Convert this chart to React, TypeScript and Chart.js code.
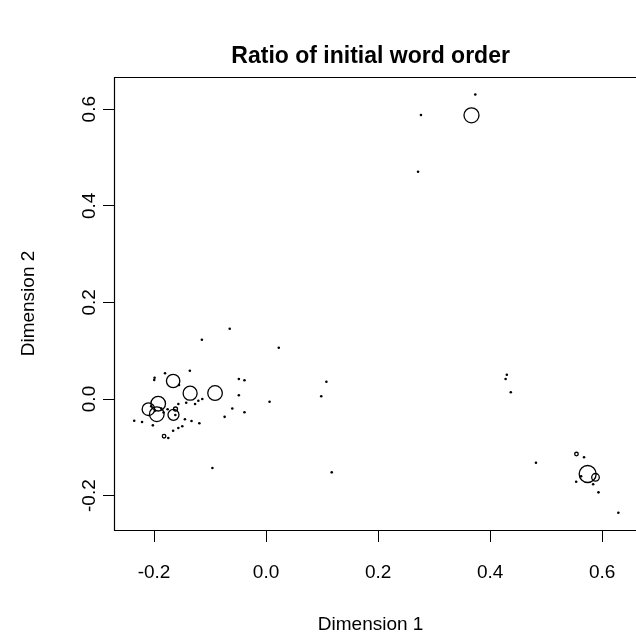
import { useEffect, useRef } from "react";
import { Chart, registerables } from "chart.js";

Chart.register(...registerables);

const chartTitle = "Ratio of initial word order";
const xAxisLabel = "Dimension 1";
const yAxisLabel = "Dimension 2";
const xTickValues = [-0.2, 0.0, 0.2, 0.4, 0.6];
const yTickValues = [-0.2, 0.0, 0.2, 0.4, 0.6];

// small dots (single items)
const dotX = [
  -0.1997, -0.199, -0.1804, -0.1361, -0.1146, -0.0649, 0.0227, -0.0486, -0.0386, 0.1077,
  -0.0486, 0.0985, 0.0062, -0.1554, -0.1209, -0.1139, -0.1268, -0.1426, -0.1566, -0.1758,
  -0.0603, -0.0386, -0.074, -0.2354, -0.2214, -0.2021, -0.1449, -0.1331, -0.1191, -0.1496,
  -0.1566, -0.1659, -0.1746, -0.0958, 0.1172, 0.2765, 0.2713, 0.3735, 0.4298, 0.4276,
  0.4369, 0.4818, 0.5676, 0.5624, 0.5536, 0.5839, 0.5934, 0.6289, -0.187, -0.198,
  -0.183, -0.205, -0.162,
];
const dotY = [
  0.0393, 0.044, 0.0532, 0.0586, 0.1228, 0.1455, 0.1062, 0.0414, 0.0387, 0.0358,
  0.0077, 0.0056, -0.0056, 0.029, -0.0035, 0.0, -0.0104, -0.0077, -0.0104, -0.0213,
  -0.0197, -0.0275, -0.0369, -0.0449, -0.0476, -0.0545, -0.042, -0.0455, -0.0503, -0.0565,
  -0.06, -0.0656, -0.0807, -0.1429, -0.1518, 0.588, 0.4706, 0.6304, 0.0503, 0.0414,
  0.0139, -0.1319, -0.1207, -0.16, -0.1712, -0.1766, -0.1932, -0.2354, -0.02, -0.024,
  -0.028, -0.015, -0.033,
];

// open circles (grouped items), symbol size
const circleX = [
  0.3667, 0.5741, 0.5881, 0.5541, -0.1659, -0.1356, -0.0911, -0.1926, -0.21, -0.1951,
  -0.1653, -0.1617, -0.1821,
];
const circleY = [
  0.5874, -0.1553, -0.1621, -0.1139, 0.0373, 0.012, 0.0124, -0.0097, -0.0211, -0.0315,
  -0.0327, -0.0207, -0.077,
];
const circleSize = [7.5, 8.5, 3.8, 1.8, 6.7, 7.0, 7.3, 7.3, 6.3, 7.3, 5.5, 2.0, 1.8];

const FONT = '"Liberation Sans", Arial, Helvetica, sans-serif';

export default function App() {
  const ref = useRef<HTMLCanvasElement | null>(null);

  useEffect(() => {
    const canvas = ref.current;
    if (!canvas) return;

    const boxPlugin = {
      id: "rbox",
      afterDraw(chart: any) {
        const { ctx, chartArea: a } = chart;
        ctx.save();
        ctx.strokeStyle = "#000";
        ctx.lineWidth = 1.2;
        ctx.beginPath();
        ctx.moveTo(a.right + 10, a.top + 0.5);
        ctx.lineTo(a.left - 0.5, a.top + 0.5);
        ctx.lineTo(a.left - 0.5, a.bottom + 0.5);
        ctx.lineTo(a.right + 10, a.bottom + 0.5);
        ctx.stroke();
        ctx.restore();
      },
    };

    const chart = new Chart(canvas, {
      type: "scatter",
      data: {
        datasets: [
          {
            label: "items",
            data: dotX.map((x, i) => ({ x, y: dotY[i] })),
            pointRadius: 1.3,
            pointBorderWidth: 0,
            pointBackgroundColor: "#000",
            borderColor: "#000",
          },
          {
            label: "groups",
            data: circleX.map((x, i) => ({ x, y: circleY[i] })),
            pointRadius: circleSize,
            pointBorderWidth: 1.3,
            pointBorderColor: "#000",
            pointBackgroundColor: "rgba(0,0,0,0)",
          },
        ],
      },
      options: {
        responsive: false,
        animation: false,
        devicePixelRatio: 1,
        layout: { padding: 0 },
        plugins: {
          legend: { display: false },
          tooltip: { enabled: false },
          title: {
            display: true,
            text: chartTitle,
            fullSize: false,
            color: "#000",
            font: { family: FONT, size: 23, weight: "bold" },
            padding: { top: 43, bottom: 6.4 },
          },
        },
        scales: {
          x: {
            type: "linear",
            min: -0.2697,
            max: 0.6429,
            border: { display: false },
            grid: {
              drawOnChartArea: false,
              drawTicks: true,
              tickLength: 12,
              tickColor: "#000",
              tickWidth: 1,
            },
            afterBuildTicks: (s: any) => {
              s.ticks = xTickValues.map((v) => ({ value: v }));
            },
            afterFit: (s: any) => {
              s.height = 104;
            },
            ticks: {
              autoSkip: false,
              maxRotation: 0,
              minRotation: 0,
              padding: 19.6,
              color: "#000",
              font: { family: FONT, size: 19 },
              callback: (v: any) => Number(v).toFixed(1),
            },
            title: {
              display: true,
              text: xAxisLabel,
              color: "#000",
              font: { family: FONT, size: 19, lineHeight: 1.0 },
              padding: { top: 0, bottom: 0 },
            },
          },
          y: {
            type: "linear",
            min: -0.2712,
            max: 0.6667,
            border: { display: false },
            grid: {
              drawOnChartArea: false,
              drawTicks: true,
              tickLength: 12,
              tickColor: "#000",
              tickWidth: 1,
            },
            afterBuildTicks: (s: any) => {
              s.ticks = yTickValues.map((v) => ({ value: v }));
            },
            afterFit: (s: any) => {
              s.width = 115;
            },
            ticks: {
              autoSkip: false,
              minRotation: 90,
              maxRotation: 90,
              crossAlign: "center",
              padding: -3,
              color: "#000",
              font: { family: FONT, size: 19 },
              callback: (v: any) => Number(v).toFixed(1),
            },
            title: {
              display: true,
              text: yAxisLabel,
              color: "#000",
              font: { family: FONT, size: 19 },
              padding: { top: 17.6, bottom: 0 },
            },
          },
        },
      },
      plugins: [boxPlugin],
    } as any);

    return () => chart.destroy();
  }, []);

  return (
    <div style={{ position: "fixed", left: 0, top: 0, width: 636, height: 634, background: "#fff" }}>
      <canvas ref={ref} width={636} height={634} style={{ width: 636, height: 634, display: "block" }} />
    </div>
  );
}
